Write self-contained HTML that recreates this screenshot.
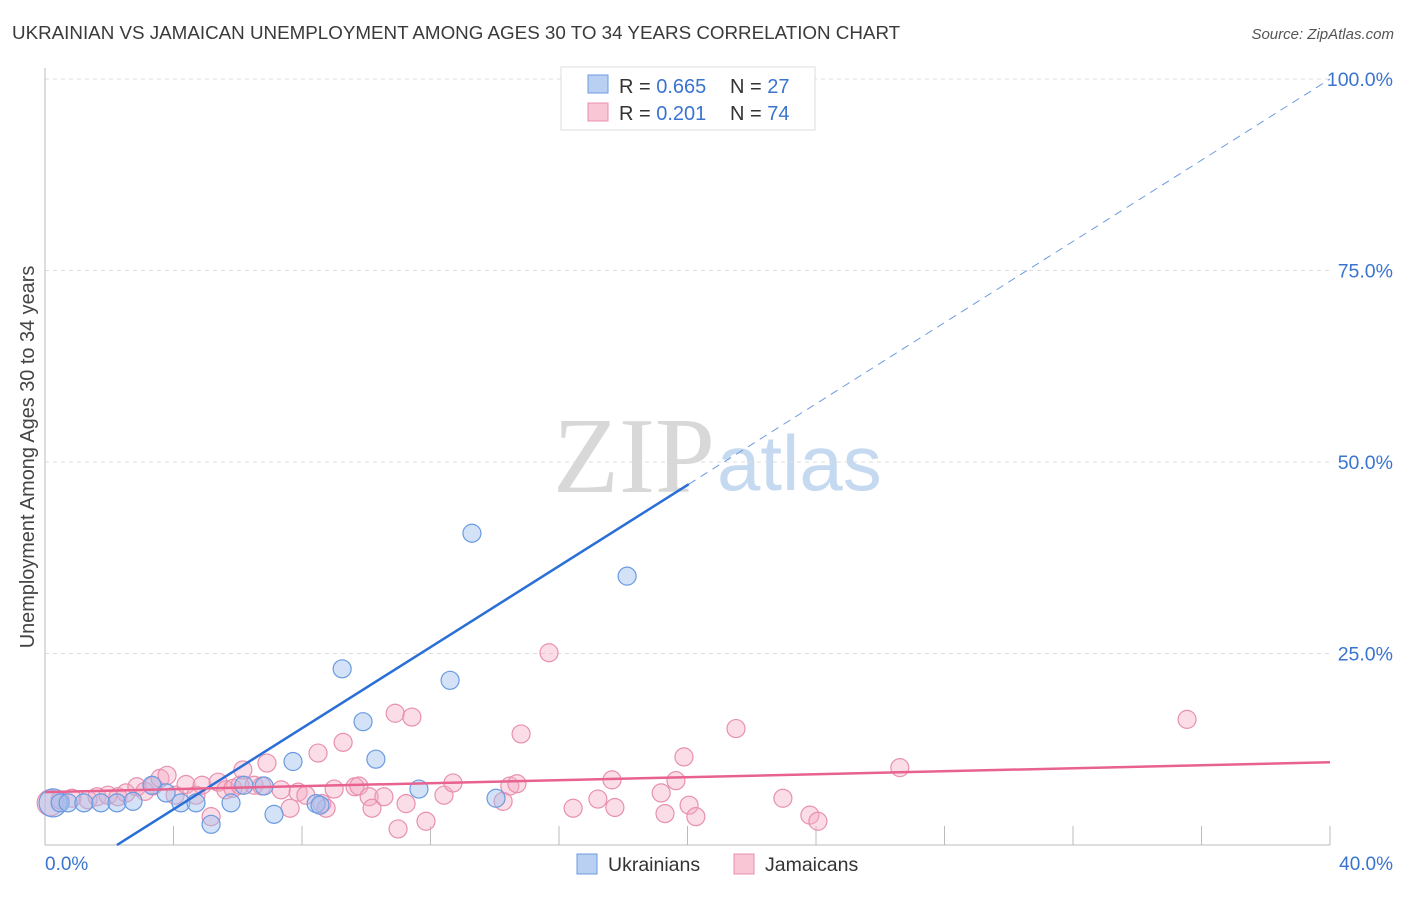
<!DOCTYPE html>
<html><head><meta charset="utf-8"><style>
body{margin:0;background:#fff;font-family:"Liberation Sans",sans-serif}
</style></head><body>
<svg id="chart" width="1406" height="892" xmlns="http://www.w3.org/2000/svg" font-family="Liberation Sans, sans-serif">
<text x="12" y="39" font-size="18.8" fill="#3a3a3a">UKRAINIAN VS JAMAICAN UNEMPLOYMENT AMONG AGES 30 TO 34 YEARS CORRELATION CHART</text>
<text x="1394" y="39" font-size="15" fill="#555" text-anchor="end" font-style="italic">Source: ZipAtlas.com</text>
<text x="553" y="492" font-size="108" fill="#d8d8d8" font-family="Liberation Serif, serif">ZIP</text>
<text x="717" y="490" font-size="78" fill="#c5d9f0">atlas</text>
<g id="grid"></g>
<g id="axes"></g>
<g id="pts"></g>
<g id="lines"></g>
<text transform="translate(34,457) rotate(-90)" font-size="19.9" fill="#444" text-anchor="middle">Unemployment Among Ages 30 to 34 years</text>
<g>
<rect x="561" y="67" width="254" height="63" fill="#fff" stroke="#ddd"/>
<rect x="588" y="75" width="20" height="18" fill="#b9d0f3" stroke="#6a9be0"/>
<rect x="588" y="103" width="20" height="18" fill="#f9c6d6" stroke="#e890ae"/>
<text x="619" y="93" font-size="20" fill="#333">R = <tspan fill="#3a74d0">0.665</tspan></text>
<text x="730" y="93" font-size="20" fill="#333">N = <tspan fill="#3a74d0">27</tspan></text>
<text x="619" y="120" font-size="20" fill="#333">R = <tspan fill="#3a74d0"> 0.201</tspan></text>
<text x="730" y="120" font-size="20" fill="#333">N = <tspan fill="#3a74d0">74</tspan></text>
</g>
<g>
<rect x="577" y="854" width="20" height="20" fill="#b9d0f3" stroke="#6a9be0"/>
<text x="608" y="871" font-size="19.5" fill="#333">Ukrainians</text>
<rect x="734" y="854" width="20" height="20" fill="#f9c6d6" stroke="#e890ae"/>
<text x="765" y="871" font-size="19.5" fill="#333">Jamaicans</text>
</g>
</svg>
<script>
const yTicks=[25,50,75,100];
const yTickLabels=["25.0%","50.0%","75.0%","100.0%"];
const xEndLabels=["0.0%","40.0%"];
const ukrX=[0.25,0.47,0.72,1.21,1.74,2.24,2.74,3.33,3.77,4.23,4.70,5.17,5.79,6.19,6.82,7.13,7.72,8.44,8.56,9.25,9.90,10.30,11.64,12.61,13.29,14.04,18.12];
const ukrY=[5.5,5.5,5.5,5.5,5.5,5.5,5.7,7.8,6.8,5.5,5.5,2.7,5.5,7.8,7.7,4.0,10.9,5.4,5.2,23.0,16.1,11.2,7.3,21.5,40.7,6.1,35.1];
const jamX=[0.16,0.47,0.84,1.34,1.62,1.96,2.27,2.52,2.86,3.11,3.36,3.58,3.80,4.05,4.39,4.70,4.89,5.17,5.39,5.63,5.85,6.07,6.16,6.51,6.75,6.91,7.35,7.63,7.88,8.12,8.50,8.62,8.75,9.00,9.28,9.65,9.77,10.09,10.18,10.55,10.90,10.99,11.24,11.42,11.86,12.42,12.70,14.26,14.47,14.69,14.82,15.69,16.44,17.21,17.65,17.74,19.18,19.30,19.64,19.89,20.05,20.26,21.51,22.97,23.81,24.06,26.61,35.55];
const jamY=[5.5,5.9,6.1,5.9,6.3,6.5,6.3,6.8,7.6,7.0,7.7,8.7,9.1,6.5,7.9,6.5,7.8,3.7,8.2,7.2,7.4,7.8,9.8,7.8,7.7,10.7,7.2,4.8,6.9,6.5,12.0,5.4,4.8,7.3,13.4,7.6,7.7,6.3,4.8,6.3,17.2,2.1,5.4,16.7,3.1,6.5,8.1,5.7,7.7,8.0,14.5,25.1,4.8,6.0,8.5,4.9,6.8,4.1,8.4,11.5,5.2,3.7,15.2,6.1,3.9,3.1,10.1,16.4];
const ukrTrend=[[2.24,0],[20.04,47.1],[40,100]];
const jamTrend=[[0,6.9],[40,10.8]];
const NS="http://www.w3.org/2000/svg";
const sx=v=>45+v*32.125, sy=v=>845-v*7.66;
function mk(tag,attrs,parent){const e=document.createElementNS(NS,tag);for(const k in attrs)e.setAttribute(k,attrs[k]);parent.appendChild(e);return e;}
const grid=document.getElementById('grid'),axes=document.getElementById('axes'),pts=document.getElementById('pts'),lines=document.getElementById('lines');
yTicks.forEach((t,i)=>{
 const l=mk('line',{x1:45,x2:1330,y1:sy(t),y2:sy(t),stroke:'#ddd','stroke-dasharray':'4,4'},grid);
 
 
 const tx=mk('text',{x:1393,y:sy(t)+7,'font-size':19.5,fill:'#3a74d0','text-anchor':'end'},axes);
 tx.textContent=yTickLabels[i];
 
 
});
let a=mk('line',{x1:45,x2:45,y1:68,y2:845,stroke:'#bbb'},axes);


a=mk('line',{x1:45,x2:1330,y1:845,y2:845,stroke:'#bbb'},axes);


for(let i=1;i<=10;i++){const t=mk('line',{x1:sx(i*4),x2:sx(i*4),y1:826,y2:845,stroke:'#bbb'},axes);
 
 }
let xl=mk('text',{x:45,y:870,'font-size':19,fill:'#3a74d0'},axes);xl.textContent=xEndLabels[0];


xl=mk('text',{x:1393,y:870,'font-size':19,fill:'#3a74d0','text-anchor':'end'},axes);xl.textContent=xEndLabels[1];


jamX.forEach((x,i)=>{const c=mk('circle',{cx:sx(x),cy:sy(jamY[i]),r:i==0?13:9,fill:'rgba(245,170,195,0.4)',stroke:'#e890ae','stroke-width':1.2},pts);
 
 });
ukrX.forEach((x,i)=>{const c=mk('circle',{cx:sx(x),cy:sy(ukrY[i]),r:i==0?14:9,fill:'rgba(160,190,240,0.45)',stroke:'#6a9be0','stroke-width':1.2},pts);
 
 });
let tl=mk('line',{x1:sx(ukrTrend[0][0]),y1:sy(ukrTrend[0][1]),x2:sx(ukrTrend[1][0]),y2:sy(ukrTrend[1][1]),stroke:'#2a6fd6','stroke-width':2.5},lines);


tl=mk('line',{x1:sx(ukrTrend[1][0]),y1:sy(ukrTrend[1][1]),x2:sx(ukrTrend[2][0]),y2:sy(ukrTrend[2][1]),stroke:'#6a9be0','stroke-width':1,'stroke-dasharray':'8,6'},lines);


tl=mk('line',{x1:sx(jamTrend[0][0]),y1:sy(jamTrend[0][1]),x2:sx(jamTrend[1][0]),y2:sy(jamTrend[1][1]),stroke:'#e8628f','stroke-width':2.5},lines);


</script>
</body></html>
